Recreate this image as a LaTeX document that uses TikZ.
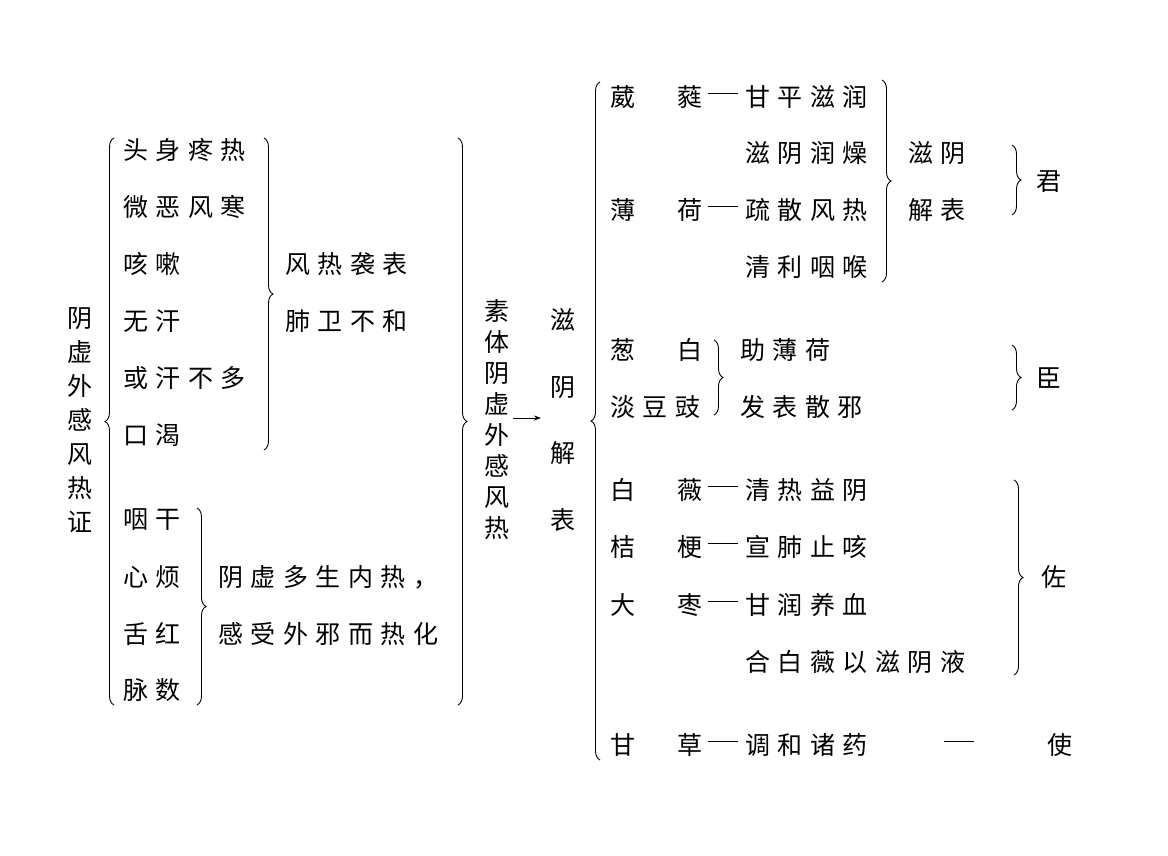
\documentclass[tikz,border=0pt]{standalone}
\usepackage{fontspec}
\newfontfamily\cjk[LetterSpace=30]{Noto Sans CJK SC}
\usetikzlibrary{decorations.pathreplacing,arrows.meta}
\newcommand{\dashrule}{\rule[8pt]{30pt}{0.8pt}}
\begin{document}
\begin{tikzpicture}[x=1pt,y=-1pt,
 t/.style={font=\fontsize{25}{31}\cjk,anchor=west,inner sep=0},
 br/.style={decorate,decoration={brace,amplitude=9pt},line width=0.9pt},
 bl/.style={decorate,decoration={brace,amplitude=9pt,mirror},line width=0.9pt}]
\useasboundingbox (0,0) rectangle (1168,855);
% left column
\node[font=\fontsize{25}{34}\cjk,inner sep=0,align=center] (title) at (80,420) {阴\\虚\\外\\感\\风\\热\\证};
\draw[bl] (114,138) -- (114,705);
\foreach \s/\y [count=\i] in {头身疼热/150,微恶风寒/207,咳嗽/264,无汗/321,或汗不多/378,口渴/435,咽干/520,心烦/577,舌红/634,脉数/690}
  \node[t] (l\i) at (123,\y) {\s};
\draw[br] (264,138) -- (264,450);
\node[t] (a1) at (285,264) {风热袭表};
\node[t] (a2) at (285,321) {肺卫不和};
\draw[br] (197,508) -- (197,705);
\node[t] (b1) at (218,577) {阴虚多生内热，};
\node[t] (b2) at (218,634) {感受外邪而热化};
\draw[br] (458,138) -- (458,705);
\node[font=\fontsize{25}{31}\cjk,inner sep=0,align=center] (sut) at (497,420) {素\\体\\阴\\虚\\外\\感\\风\\热};
\coordinate (as) at (513,418);
\coordinate (ae) at (541,418);
\draw[-{Stealth[length=7pt,width=5pt]},line width=0.9pt] (as) -- (ae);
\node[font=\fontsize{25}{66.5}\cjk,inner sep=0,align=center] (zy) at (563,420) {滋\\阴\\解\\表};
\draw[bl] (600,82) -- (600,760);
% right rows
\foreach \a/\b/\c/\y [count=\i] in {葳/蕤/甘平滋润/97,薄/荷/疏散风热/210,白/薇/清热益阴/490,桔/梗/宣肺止咳/547,大/枣/甘润养血/605,甘/草/调和诸药/745}{
  \node[t] (r\i a) at (610,\y) {\a};
  \node[t] (r\i b) at (677,\y) {\b};
  \node[t] (r\i d) at (708,\y) {\dashrule};
  \node[t] (r\i c) at (745,\y) {\c};}
\node[t] (c1) at (745,153) {滋阴润燥};
\node[t] (c2) at (745,267) {清利咽喉};
\draw[br] (882,80) -- (882,282);
\node[t] (d1) at (908,153) {滋阴};
\node[t] (d2) at (908,210) {解表};
\draw[br] (1012,145) -- (1012,215);
\node[t] (jun) at (1036,182) {君};
\node[t] (e1a) at (610,350) {葱};
\node[t] (e1b) at (677,350) {白};
\node[t] (e2) at (610,407) {淡豆豉};
\draw[br] (714,340) -- (714,415);
\node[t] (f1) at (740,350) {助薄荷};
\node[t] (f2) at (740,407) {发表散邪};
\draw[br] (1012,345) -- (1012,410);
\node[t] (chen) at (1036,378) {臣};
\node[t] (g1) at (745,662) {合白薇以滋阴液};
\draw[br] (1014,480) -- (1014,675);
\node[t] (zuo) at (1041,577) {佐};
\node[t] (dash) at (944,745) {\dashrule};
\node[t] (shi) at (1047,745) {使};
\end{tikzpicture}
\end{document}
